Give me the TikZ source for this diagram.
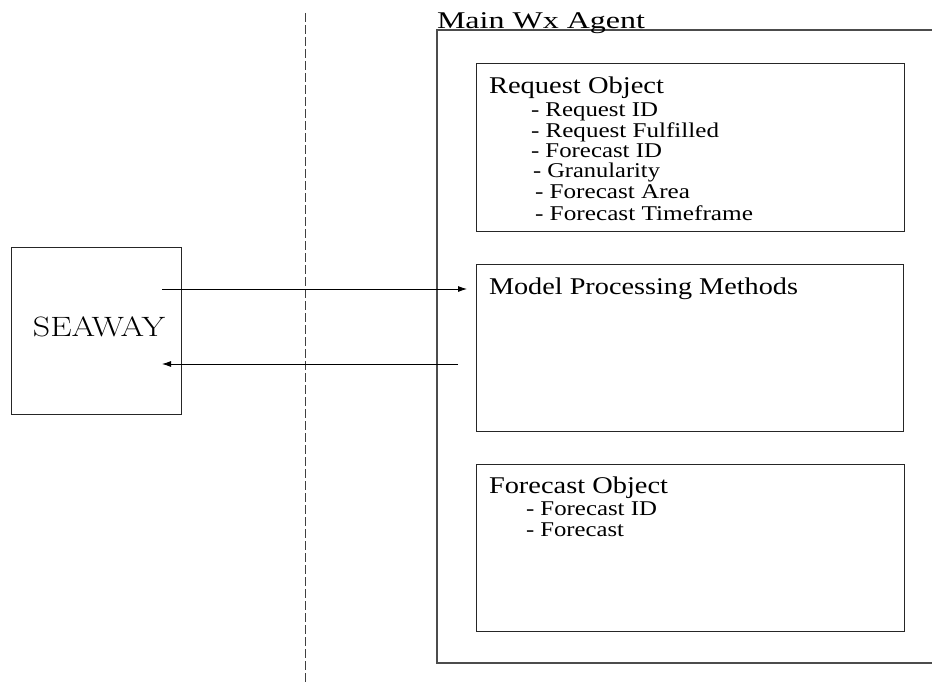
\documentclass[tikz,border=0pt]{standalone}
\usepackage{fontspec}
\setmainfont{Liberation Serif}
\newfontfamily\lmfont{Latin Modern Roman}
\usepackage{graphicx}
\usetikzlibrary{arrows.meta}
\newcommand{\fitw}[2]{\resizebox{#1pt}{\height}{#2}}
\begin{document}
\begin{tikzpicture}[x=1pt,y=-1pt,
  box/.style={draw=black!85, line width=1pt, rectangle, inner sep=0pt},
  txt/.style={anchor=base west, inner sep=0pt, outer sep=0pt},
  head/.style={txt, font=\fontsize{24}{24}\selectfont},
  item/.style={txt, font=\fontsize{21}{21}\selectfont},
  conn/.style={line width=0.8pt, -{Latex[length=9pt,width=6pt]}}]
\useasboundingbox (0,0) rectangle (932,685);
% dashed boundary
\coordinate (dtop) at (305,13);
\coordinate (dbot) at (305,685);
\draw[black!75, line width=1pt, dash pattern=on 9pt off 3pt] (dtop) -- (dbot);
% main agent box (right side runs off the picture)
\coordinate (mtr) at (940,30);
\coordinate (mtl) at (437,30);
\coordinate (mbl) at (437,663);
\coordinate (mbr) at (940,663);
\draw[black!70, line width=1.2pt] (mtr) -- (mtl) -- (mbl) -- (mbr);
\node[head] (mainlbl) at (437,29) {\fitw{208}{Main Wx Agent}};
% SEAWAY
\node[box, minimum width=170pt, minimum height=167pt] (seaway) at (96,330.5) {};
\node[txt, font=\lmfont\fontsize{28}{28}\selectfont] (seawaylbl) at (33,336) {\fitw{132}{SEAWAY}};
% Request object
\node[box, minimum width=428pt, minimum height=167pt] (req) at (690,147.5) {};
\node[head] (reqh) at (489,93) {\fitw{175}{Request Object}};
\node[item] (r1) at (531,117) {\fitw{127}{- Request ID}};
\node[item] (r2) at (531,137) {\fitw{188}{- Request Fulfilled}};
\node[item] (r3) at (531,157) {\fitw{131}{- Forecast ID}};
\node[item] (r4) at (533,177) {\fitw{127}{- Granularity}};
\node[item] (r5) at (535,198) {\fitw{155}{- Forecast Area}};
\node[item] (r6) at (535,220) {\fitw{218}{- Forecast Timeframe}};
% Model processing
\node[box, minimum width=427pt, minimum height=167pt] (model) at (689.5,347.5) {};
\node[head] (modelh) at (489,294) {\fitw{309}{Model Processing Methods}};
% Forecast object
\node[box, minimum width=428pt, minimum height=167pt] (fc) at (690,547.5) {};
\node[head] (fch) at (489,493) {\fitw{179}{Forecast Object}};
\node[item] (f1) at (526,515) {\fitw{131}{- Forecast ID}};
\node[item] (f2) at (526,536) {\fitw{98}{- Forecast}};
% connectors
\coordinate (a1s) at (162,289);
\coordinate (a1e) at (467,289);
\coordinate (a2s) at (458,364);
\coordinate (a2e) at (162,364);
\draw[conn] (a1s) -- (a1e);
\draw[conn] (a2s) -- (a2e);
\end{tikzpicture}
\end{document}
